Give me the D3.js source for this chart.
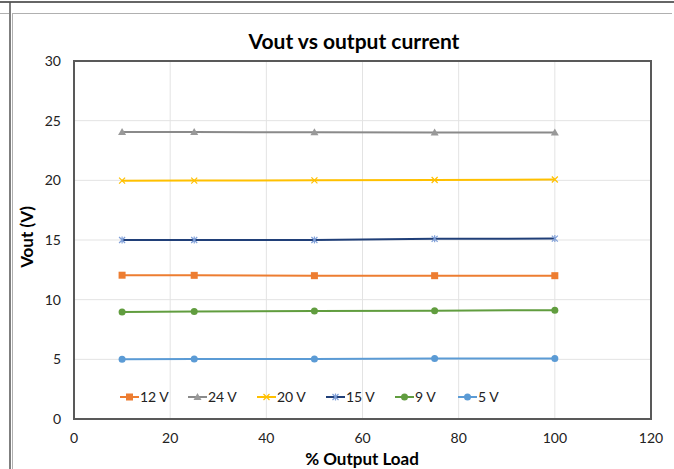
<!DOCTYPE html>
<html>
<head>
<meta charset="utf-8">
<script src="https://cdn.jsdelivr.net/npm/d3@7"></script>
<style>
  body { margin: 0; background: #fff; }
  svg { display: block; font-family: Lato, "Open Sans", sans-serif; }
</style>
</head>
<body>
<script>
const loads = [10, 25, 50, 75, 100];
const names = ['12 V', '24 V', '20 V', '15 V', '9 V', '5 V'];
const v12 = [12.05, 12.04, 12.01, 12.01, 12.01];
const v24 = [24.06, 24.05, 24.02, 24.0, 24.0];
const v20 = [19.97, 19.98, 20.0, 20.03, 20.07];
const v15 = [15.0, 15.0, 15.0, 15.1, 15.12];
const v9 = [8.97, 9.0, 9.05, 9.08, 9.12];
const v5 = [5.0, 5.02, 5.03, 5.06, 5.08];
const xTicks = [0, 20, 40, 60, 80, 100, 120];
const yTicks = [0, 5, 10, 15, 20, 25, 30];

const series = [
  { name: names[0], values: v12, line: '#ed7d31', fill: '#ed7d31', shape: 'square' },
  { name: names[1], values: v24, line: '#8a8a8a', fill: '#999999', shape: 'triangle' },
  { name: names[2], values: v20, line: '#ffc000', fill: '#ffc000', shape: 'cross' },
  { name: names[3], values: v15, line: '#203f78', fill: '#7f9fd8', shape: 'star' },
  { name: names[4], values: v9, line: '#619d3f', fill: '#619d3f', shape: 'circle' },
  { name: names[5], values: v5, line: '#5b9bd5', fill: '#5b9bd5', shape: 'circle' }
];

const W = 674, H = 469;
const m = { left: 74, top: 61, right: 651, bottom: 419 };

const svg = d3.select(document.body).append('svg')
  .attr('width', W).attr('height', H);

// outer frame lines
svg.append('line').attr('x1', 0).attr('x2', W).attr('y1', 2).attr('y2', 2)
  .attr('stroke', '#333').attr('stroke-width', 1.5);
svg.append('line').attr('x1', 10).attr('x2', 10).attr('y1', 2).attr('y2', H)
  .attr('stroke', '#555').attr('stroke-width', 1.5);
svg.append('line').attr('x1', 12.5).attr('x2', 12.5).attr('y1', 13).attr('y2', H)
  .attr('stroke', '#b0b0b0').attr('stroke-width', 1);
svg.append('line').attr('x1', 0).attr('x2', 9).attr('y1', 13.5).attr('y2', 13.5)
  .attr('stroke', '#b0b0b0').attr('stroke-width', 1);
svg.append('line').attr('x1', 12).attr('x2', 672).attr('y1', 13.5).attr('y2', 13.5)
  .attr('stroke', '#b0b0b0').attr('stroke-width', 1);

const x = d3.scaleLinear().domain([0, 120]).range([m.left, m.right]);
const y = d3.scaleLinear().domain([0, 30]).range([m.bottom, m.top]);

// gridlines
svg.append('g').selectAll('line').data(xTicks.slice(1, -1)).enter().append('line')
  .attr('x1', d => x(d)).attr('x2', d => x(d))
  .attr('y1', m.top).attr('y2', m.bottom)
  .attr('stroke', '#e3e3e3').attr('stroke-width', 1);
svg.append('g').selectAll('line').data(yTicks.slice(1, -1)).enter().append('line')
  .attr('x1', m.left).attr('x2', m.right)
  .attr('y1', d => y(d)).attr('y2', d => y(d))
  .attr('stroke', '#e3e3e3').attr('stroke-width', 1);

// plot border
svg.append('rect')
  .attr('x', m.left).attr('y', m.top)
  .attr('width', m.right - m.left).attr('height', m.bottom - m.top)
  .attr('fill', 'none').attr('stroke', '#595959').attr('stroke-width', 2);

// tick labels
svg.append('g').selectAll('text').data(xTicks).enter().append('text')
  .attr('x', d => x(d)).attr('y', 443)
  .attr('text-anchor', 'middle').attr('font-size', 14).attr('fill', '#222')
  .text(d => d);
svg.append('g').selectAll('text').data(yTicks).enter().append('text')
  .attr('x', 61).attr('y', d => y(d) + 5)
  .attr('text-anchor', 'end').attr('font-size', 14).attr('fill', '#222')
  .text(d => d);

// titles
svg.append('text').attr('x', 354).attr('y', 49)
  .attr('text-anchor', 'middle').attr('font-size', 21).attr('font-weight', 'bold')
  .text('Vout vs output current');
svg.append('text').attr('x', 362).attr('y', 465)
  .attr('text-anchor', 'middle').attr('font-size', 17).attr('font-weight', 'bold')
  .text('% Output Load');
svg.append('text')
  .attr('transform', 'translate(33,237) rotate(-90)')
  .attr('text-anchor', 'middle').attr('font-size', 17).attr('font-weight', 'bold')
  .text('Vout (V)');

function marker(g, s) {
  if (s.shape === 'square') {
    g.append('rect').attr('x', -3.5).attr('y', -3.5).attr('width', 7).attr('height', 7)
      .attr('fill', s.fill);
  } else if (s.shape === 'circle') {
    g.append('circle').attr('r', 3.5).attr('fill', s.fill);
  } else if (s.shape === 'triangle') {
    g.append('path').attr('d', 'M0,-4L4,3L-4,3Z').attr('fill', s.fill);
  } else if (s.shape === 'cross') {
    g.append('path').attr('d', 'M-3,-3L3,3M-3,3L3,-3')
      .attr('stroke', s.fill).attr('stroke-width', 1.2);
  } else if (s.shape === 'star') {
    g.append('path').attr('d', 'M-3,-3L3,3M-3,3L3,-3M0,-3.5L0,3.5')
      .attr('stroke', s.fill).attr('stroke-width', 1.2);
  }
}

const line = d3.line().x(d => x(d[0])).y(d => y(d[1]));

series.forEach(s => {
  const pts = loads.map((l, i) => [l, s.values[i]]);
  svg.append('path').datum(pts)
    .attr('d', line).attr('fill', 'none')
    .attr('stroke', s.line).attr('stroke-width', 2);
  svg.append('g').selectAll('g').data(pts).enter().append('g')
    .attr('transform', d => `translate(${x(d[0])},${y(d[1])})`)
    .each(function () { marker(d3.select(this), s); });
});

// legend
const legendX = [120, 188, 257, 326, 395, 458];
const ly = 397;
series.forEach((s, i) => {
  const g = svg.append('g').attr('transform', `translate(${legendX[i]},${ly})`);
  g.append('line').attr('x1', 0).attr('x2', 19).attr('y1', 0).attr('y2', 0)
    .attr('stroke', s.line).attr('stroke-width', 2);
  marker(g.append('g').attr('transform', 'translate(9.5,0)'), s);
  g.append('text').attr('x', 20).attr('y', 5)
    .attr('font-size', 14).attr('fill', '#222').text(s.name);
});
</script>
</body>
</html>
